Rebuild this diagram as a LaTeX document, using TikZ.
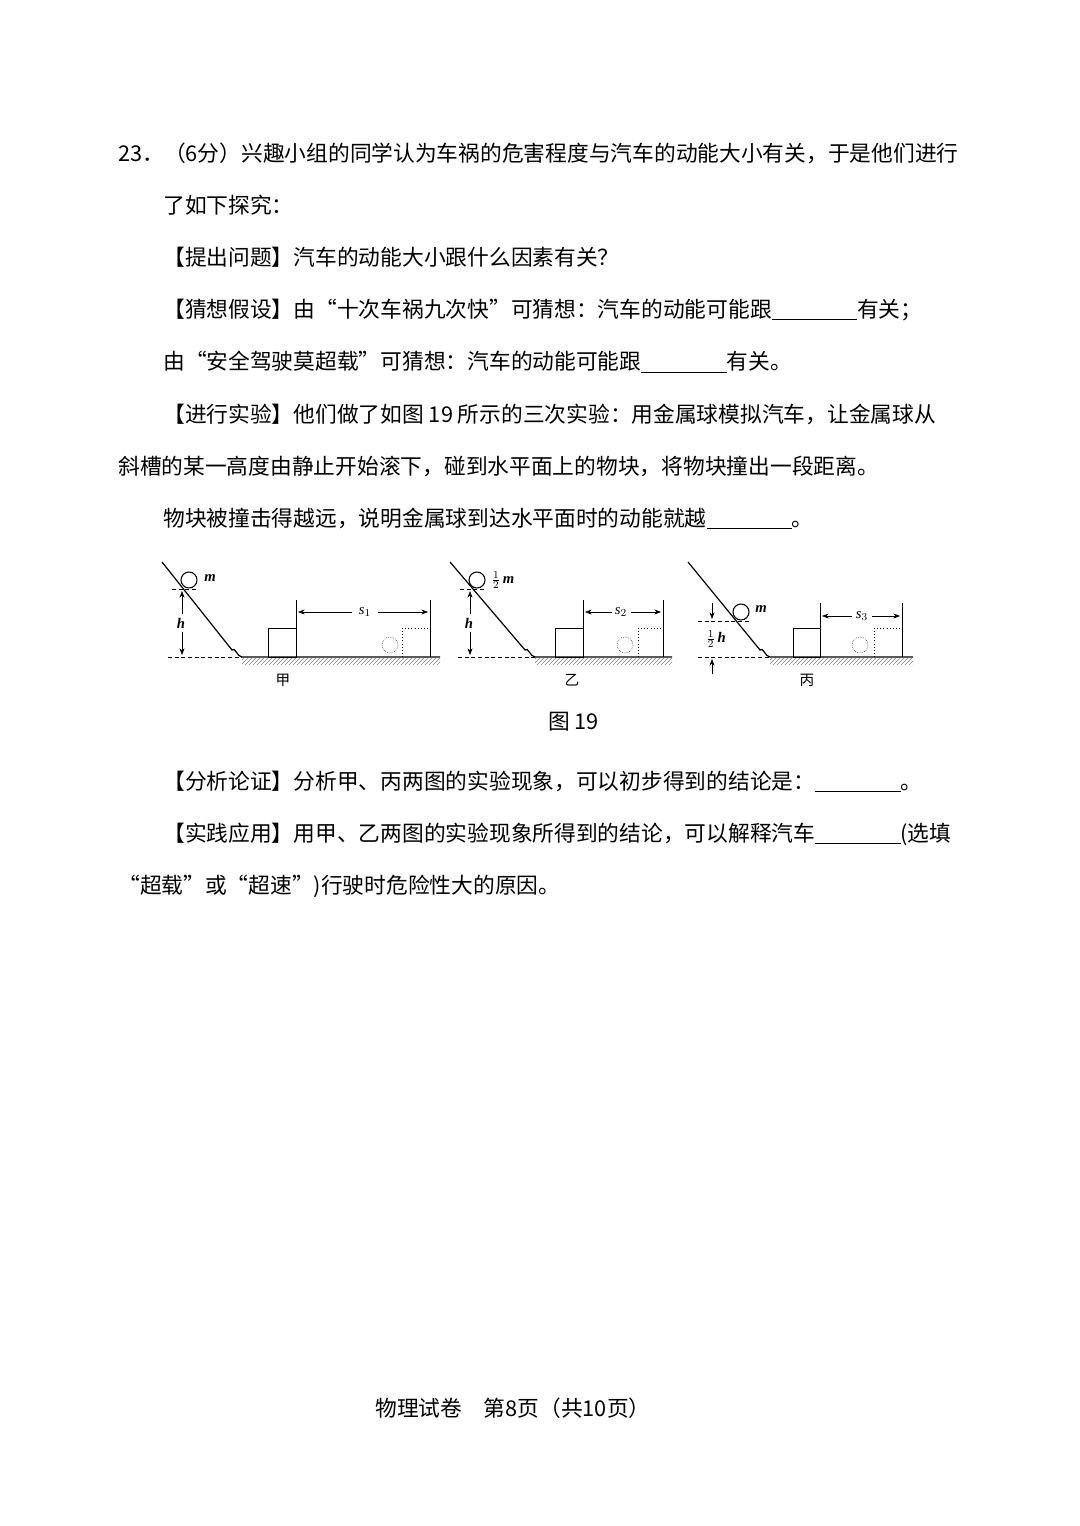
\documentclass[tikz,border=0pt]{standalone}
\usepackage{fontspec}
\setmainfont{Liberation Serif}
\newfontfamily\cjk{Noto Sans CJK SC}
\usetikzlibrary{arrows.meta,patterns}
\begin{document}
\begin{tikzpicture}[x=0.75pt,y=-0.75pt,
 txt/.style={anchor=west,inner sep=0pt,font=\cjk\fontsize{16.3}{18}\selectfont},
 lbl/.style={inner sep=0pt,font=\bfseries\itshape\fontsize{11}{12}\selectfont},
 figcap/.style={inner sep=0pt,font=\cjk\fontsize{11}{12}\selectfont},
 dim/.style={-{Stealth[length=5pt]},thin},
 ln/.style={line width=0.9pt},
 dsh/.style={densely dashed,thin}]
\useasboundingbox (0,0) rectangle (1080,1526);
\def\bl{\underline{\hspace{64pt}}}
\node[txt] (l1) at (118,153) {23．（6分）兴趣小组的同学认为车祸的危害程度与汽车的动能大小有关，于是他们进行};
\node[txt] (l2) at (163,205) {了如下探究：};
\node[txt] (l3) at (163,257) {【提出问题】汽车的动能大小跟什么因素有关？};
\node[txt] (l4) at (163,310) {【猜想假设】由“十次车祸九次快”可猜想：汽车的动能可能跟\bl 有关；};
\node[txt] (l5) at (163,362) {由“安全驾驶莫超载”可猜想：汽车的动能可能跟\bl 有关。};
\node[txt] (l6) at (163,414) {【进行实验】他们做了如图 19 所示的三次实验：用金属球模拟汽车，让金属球从};
\node[txt] (l7) at (118,466) {斜槽的某一高度由静止开始滚下，碰到水平面上的物块，将物块撞出一段距离。};
\node[txt] (l8) at (163,519) {物块被撞击得越远，说明金属球到达水平面时的动能就越\bl 。};
\node[txt] (fig) at (548,722) {图 19};
\node[txt] (l9) at (163,782) {【分析论证】分析甲、丙两图的实验现象，可以初步得到的结论是：\bl 。};
\node[txt] (l10) at (163,834) {【实践应用】用甲、乙两图的实验现象所得到的结论，可以解释汽车\bl (选填};
\node[txt] (l11) at (118,886) {“超载”或“超速”)行驶时危险性大的原因。};
\node[txt] (ft) at (375,1408) {物理试卷\quad 第8页（共10页）};

% panel 1
\draw[ln] (162,562) -- (232,650) to[out=52,in=180] (242,657) -- (440,657);
\fill[pattern=north east lines,pattern color=gray] (242,658) rectangle (440,664);
\draw[dsh] (168,657) -- (242,657);
\draw[thick] (189,580) circle (8);
\node[lbl] (m1) at (210,578) {m};
\draw[dsh] (172,589) -- (196,589);
\draw[dim] (182,614) -- (182,591); \draw[dim] (182,632) -- (182,655);
\node[lbl] (h1) at (181,623) {h};
\draw (268,628) rectangle (296,657);
\draw (296,600) -- (296,657); \draw (430,600) -- (430,657);
\draw[dim] (352,612) -- (298,612); \draw[dim] (378,612) -- (428,612);
\node[lbl,font=\itshape\fontsize{11}{12}\selectfont] (s1) at (365,612) {s$_1$};
\draw[dotted] (402,657) -- (402,628) -- (430,628);
\draw[densely dotted] (390,645) circle (8);
\node[figcap] (c1) at (283,680) {甲};

% panel 2
\draw[ln] (450,562) -- (525,650) to[out=50,in=180] (535,657) -- (672,657);
\fill[pattern=north east lines,pattern color=gray] (535,658) rectangle (672,664);
\draw[dsh] (458,657) -- (535,657);
\draw[thick] (477,580) circle (8);
\node[lbl] (m2) at (503,580) {$\frac{1}{2}$\,m};
\draw[dsh] (460,589) -- (484,589);
\draw[dim] (470,614) -- (470,591); \draw[dim] (470,632) -- (470,655);
\node[lbl] (h2) at (469,623) {h};
\draw (555,628) rectangle (583,657);
\draw (583,600) -- (583,657); \draw (663,600) -- (663,657);
\draw[dim] (612,612) -- (585,612); \draw[dim] (631,612) -- (661,612);
\node[lbl,font=\itshape\fontsize{11}{12}\selectfont] (s2) at (621,612) {s$_2$};
\draw[dotted] (638,657) -- (638,628) -- (663,628);
\draw[densely dotted] (625,645) circle (8);
\node[figcap] (c2) at (572,680) {乙};

% panel 3
\draw[ln] (688,562) -- (760,650) to[out=50,in=180] (770,657) -- (913,657);
\fill[pattern=north east lines,pattern color=gray] (770,658) rectangle (913,664);
\draw[dsh] (698,657) -- (770,657);
\draw[thick] (741,612) circle (8);
\node[lbl] (m3) at (761,609) {m};
\draw[dsh] (698,621) -- (749,621);
\draw[dim] (712,603) -- (712,619); \draw[dim] (712,674) -- (712,659);
\node[lbl] (h3) at (716,639) {$\frac{1}{2}$\,h};
\draw (793,628) rectangle (820,657);
\draw (820,603) -- (820,657); \draw (902,603) -- (902,657);
\draw[dim] (852,616) -- (822,616); \draw[dim] (872,616) -- (900,616);
\node[lbl,font=\itshape\fontsize{11}{12}\selectfont] (s3) at (862,616) {s$_3$};
\draw[dotted] (874,657) -- (874,628) -- (902,628);
\draw[densely dotted] (860,645) circle (8);
\node[figcap] (c3) at (807,680) {丙};
\end{tikzpicture}
\end{document}
